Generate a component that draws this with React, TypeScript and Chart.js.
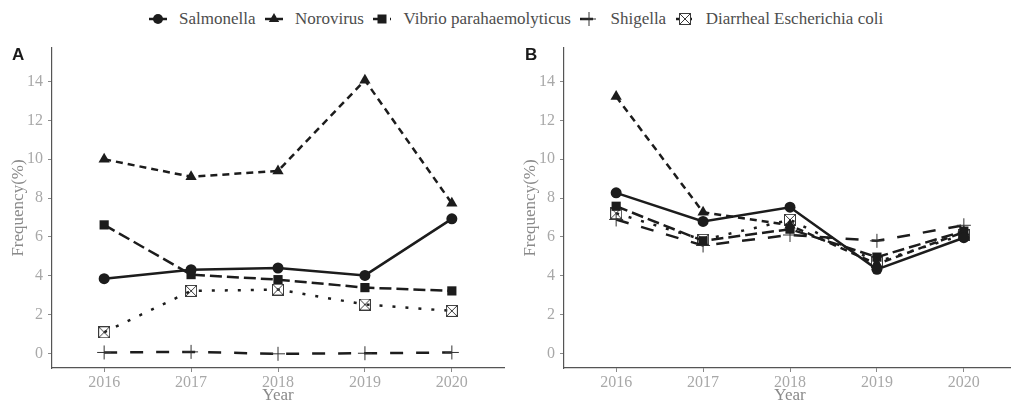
import React, { useEffect, useRef } from "react";
import { Chart, registerables } from "chart.js";

Chart.register(...registerables);

// ---------------- data ----------------
const years = [2016, 2017, 2018, 2019, 2020];
const seriesNames = [
  "Salmonella",
  "Norovirus",
  "Vibrio parahaemolyticus",
  "Shigella",
  "Diarrheal Escherichia coli",
];
const yTicks = [0, 2, 4, 6, 8, 10, 12, 14];

// Panel A
const salmonellaA = [3.85, 4.31, 4.4, 4.02, 6.93];
const norovirusA = [10.0, 9.1, 9.4, 14.07, 7.73];
const vibrioA = [6.62, 4.06, 3.8, 3.39, 3.22];
const shigellaA = [0.05, 0.08, -0.02, 0.01, 0.05];
const ecoliA = [1.09, 3.22, 3.29, 2.52, 2.19];

// Panel B
const salmonellaB = [8.27, 6.8, 7.53, 4.33, 5.96];
const norovirusB = [13.23, 7.27, 6.6, 4.6, 6.25];
const vibrioB = [7.58, 5.8, 6.4, 4.96, 6.3];
const shigellaB = [6.9, 5.56, 6.1, 5.8, 6.6];
const ecoliB = [7.22, 5.85, 6.88, 4.72, 6.12];

const panelA = [salmonellaA, norovirusA, vibrioA, shigellaA, ecoliA];
const panelB = [salmonellaB, norovirusB, vibrioB, shigellaB, ecoliB];

// ---------------- styles ----------------
const LINE = "#1c1c1c";
const SERIF = "'Liberation Serif', 'Times New Roman', serif";

function makeBoxCross(): HTMLCanvasElement {
  const c = document.createElement("canvas");
  c.width = 12;
  c.height = 12;
  const ctx = c.getContext("2d")!;
  ctx.strokeStyle = "#3a3a3a";
  ctx.lineWidth = 1;
  ctx.strokeRect(0.5, 0.5, 11, 11);
  ctx.beginPath();
  ctx.moveTo(0.5, 0.5);
  ctx.lineTo(11.5, 11.5);
  ctx.moveTo(11.5, 0.5);
  ctx.lineTo(0.5, 11.5);
  ctx.stroke();
  return c;
}

type Style = {
  dash: number[];
  pointStyle: any;
  radius: number;
  pointBorderWidth: number;
  pointBorderColor: string;
  pointBg: string;
};

function getStyles(): Style[] {
  const box = makeBoxCross();
  return [
    { dash: [], pointStyle: "circle", radius: 5.5, pointBorderWidth: 0, pointBorderColor: LINE, pointBg: LINE },
    { dash: [7, 5], pointStyle: "triangle", radius: 6.5, pointBorderWidth: 0, pointBorderColor: LINE, pointBg: LINE },
    { dash: [12, 5], pointStyle: "rect", radius: 6.5, pointBorderWidth: 0, pointBorderColor: LINE, pointBg: LINE },
    { dash: [13, 13], pointStyle: "cross", radius: 7, pointBorderWidth: 1, pointBorderColor: "#333", pointBg: "#333" },
    { dash: [3, 10], pointStyle: box, radius: 6, pointBorderWidth: 0, pointBorderColor: "#333", pointBg: "rgba(0,0,0,0)" },
  ];
}

const tickGrid = {
  display: true,
  drawOnChartArea: false,
  drawTicks: true,
  tickLength: 4,
  color: "#8a8a8a",
  lineWidth: 1,
};

// ---------------- chart panel ----------------
function Panel({ values, left }: { values: number[][]; left: number }) {
  const ref = useRef<HTMLCanvasElement | null>(null);
  useEffect(() => {
    if (!ref.current) return;
    const styles = getStyles();
    const chart = new Chart(ref.current, {
      type: "line",
      data: {
        datasets: values.map((vals, i) => {
          const s = styles[i];
          return {
            label: seriesNames[i],
            data: vals.map((v, j) => ({ x: years[j], y: v })),
            borderColor: LINE,
            borderWidth: 2.5,
            borderDash: s.dash,
            borderCapStyle: "butt" as const,
            fill: false,
            tension: 0,
            pointStyle: s.pointStyle,
            pointRadius: s.radius,
            pointBackgroundColor: s.pointBg,
            pointBorderColor: s.pointBorderColor,
            pointBorderWidth: s.pointBorderWidth,
          };
        }),
      },
      options: {
        animation: false,
        responsive: false,
        events: [],
        layout: { padding: { top: 7, right: 3, left: 0, bottom: 0 } },
        plugins: { legend: { display: false }, tooltip: { enabled: false } },
        scales: {
          x: {
            type: "linear",
            min: 2015.4,
            max: 2020.6,
            afterBuildTicks: (scale: any) => {
              scale.ticks = years.map((v) => ({ value: v }));
            },
            afterFit: (scale: any) => {
              scale.height = 38;
              scale.paddingLeft = 0;
              scale.paddingRight = 0;
            },
            ticks: {
              callback: (v: any) => String(v),
              color: "#a8a8a8",
              font: { family: SERIF, size: 16 },
              padding: 1,
              maxRotation: 0,
              autoSkip: false,
            },
            grid: tickGrid,
            border: { display: true, color: "#555", width: 1.2 },
            title: {
              display: true,
              text: "Year",
              color: "#8a8a8a",
              font: { family: SERIF, size: 17 },
              padding: { top: 0, bottom: 0 },
            },
          },
          y: {
            type: "linear",
            min: -0.75,
            max: 15.73,
            afterBuildTicks: (scale: any) => {
              scale.ticks = yTicks.map((v) => ({ value: v }));
            },
            afterFit: (scale: any) => {
              scale.width = 52;
              scale.paddingTop = 0;
              scale.paddingBottom = 0;
            },
            ticks: {
              callback: (v: any) => String(v),
              color: "#a8a8a8",
              font: { family: SERIF, size: 16 },
              padding: 5,
            },
            grid: tickGrid,
            border: { display: true, color: "#555", width: 1.2 },
            title: {
              display: true,
              text: "Frequency(%)",
              color: "#8a8a8a",
              font: { family: SERIF, size: 17 },
              padding: { top: 8, bottom: 0 },
            },
          },
        },
      },
    });
    return () => chart.destroy();
  }, [values]);
  return (
    <canvas
      ref={ref}
      width={512}
      height={366}
      style={{ position: "absolute", left, top: 40, width: 512, height: 366 }}
    />
  );
}

// ---------------- legend ----------------
function LegendKey({ index }: { index: number }) {
  const ref = useRef<HTMLCanvasElement | null>(null);
  useEffect(() => {
    const c = ref.current;
    if (!c) return;
    const ctx = c.getContext("2d")!;
    ctx.clearRect(0, 0, c.width, c.height);
    const styles = getStyles();
    const s = styles[index];
    const cy = 10;
    ctx.save();
    ctx.strokeStyle = LINE;
    ctx.lineWidth = 2.5;
    ctx.setLineDash(s.dash);
    ctx.beginPath();
    ctx.moveTo(1, cy);
    ctx.lineTo(19, cy);
    ctx.stroke();
    ctx.restore();
    ctx.fillStyle = LINE;
    ctx.strokeStyle = s.pointBorderColor;
    const cx = 10;
    if (index === 0) {
      ctx.beginPath();
      ctx.arc(cx, cy, 5, 0, Math.PI * 2);
      ctx.fill();
    } else if (index === 1) {
      const r = 6;
      ctx.beginPath();
      ctx.moveTo(cx, cy - r);
      ctx.lineTo(cx + r * 0.866, cy + r * 0.5);
      ctx.lineTo(cx - r * 0.866, cy + r * 0.5);
      ctx.closePath();
      ctx.fill();
    } else if (index === 2) {
      ctx.fillRect(cx - 4.5, cy - 4.5, 9, 9);
    } else if (index === 3) {
      ctx.lineWidth = 1;
      ctx.beginPath();
      ctx.moveTo(cx, cy - 7);
      ctx.lineTo(cx, cy + 7);
      ctx.moveTo(cx - 7, cy);
      ctx.lineTo(cx + 7, cy);
      ctx.stroke();
    } else {
      const box = s.pointStyle as HTMLCanvasElement;
      ctx.clearRect(cx - 5, cy - 5, 10, 10);
      ctx.drawImage(box, cx - 6, cy - 6);
    }
  }, [index]);
  return <canvas ref={ref} width={20} height={20} style={{ width: 20, height: 20, display: "block" }} />;
}

function Legend() {
  return (
    <div
      style={{
        position: "absolute",
        left: 148,
        top: 9,
        height: 20,
        display: "flex",
        alignItems: "center",
        fontFamily: SERIF,
        fontSize: 17,
        color: "#4d4d4d",
        whiteSpace: "nowrap",
      }}
    >
      {seriesNames.map((name, i) => (
        <div key={name} style={{ display: "flex", alignItems: "center", marginRight: 8.5 }}>
          <LegendKey index={i} />
          <span style={{ marginLeft: 11, lineHeight: "20px" }}>{name}</span>
        </div>
      ))}
    </div>
  );
}

const panelLabelStyle: React.CSSProperties = {
  position: "absolute",
  top: 46,
  fontFamily: "'Liberation Sans', Arial, sans-serif",
  fontWeight: "bold",
  fontSize: 17,
  lineHeight: "17px",
  color: "#1a1a1a",
};

export default function App() {
  return (
    <div
      style={{
        position: "absolute",
        left: 0,
        top: 0,
        width: 1011,
        height: 406,
        overflow: "hidden",
        background: "#fff",
      }}
    >
      <Legend />
      <Panel values={panelA} left={0} />
      <Panel values={panelB} left={512} />
      <div style={{ ...panelLabelStyle, left: 12 }}>A</div>
      <div style={{ ...panelLabelStyle, left: 525 }}>B</div>
    </div>
  );
}
